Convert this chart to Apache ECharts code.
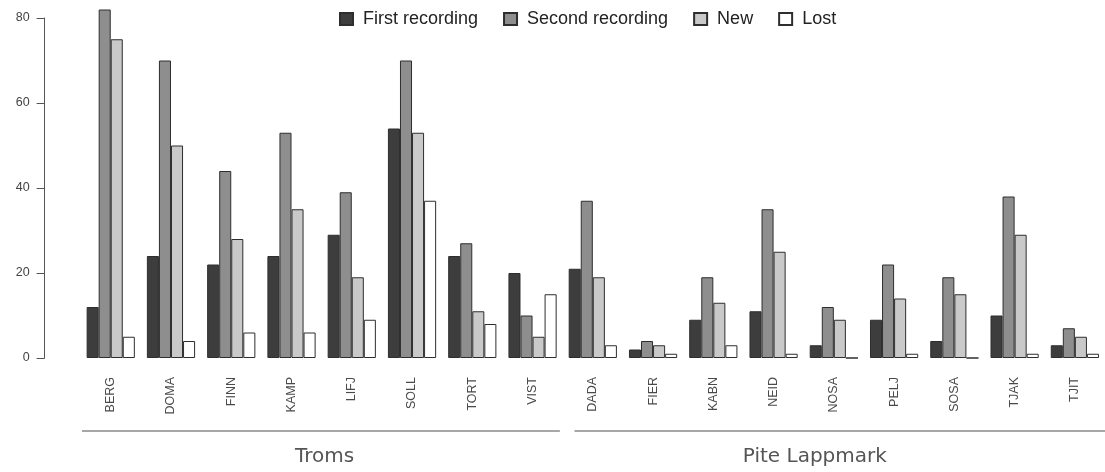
<!DOCTYPE html>
<html>
<head>
<meta charset="utf-8">
<script src="https://cdn.jsdelivr.net/npm/echarts@6/dist/echarts.min.js"></script>
<style>
html,body{margin:0;padding:0;background:#fff;}
#c{width:1105px;height:472px;}
</style>
</head>
<body>
<div id="c"></div>
<script>
const categories = ['BERG','DOMA','FINN','KAMP','LIFJ','SOLL','TORT','VIST','DADA','FIER','KABN','NEID','NOSA','PELJ','SOSA','TJAK','TJIT'];
const firstRecording  = [12, 24, 22, 24, 29, 54, 24, 20, 21, 2, 9, 11, 3, 9, 4, 10, 3];
const secondRecording = [82, 70, 44, 53, 39, 70, 27, 10, 37, 4, 19, 35, 12, 22, 19, 38, 7];
const newSpecies      = [75, 50, 28, 35, 19, 53, 11, 5, 19, 3, 13, 25, 9, 14, 15, 29, 5];
const lostSpecies     = [5, 4, 6, 6, 9, 37, 8, 15, 3, 1, 3, 1, 0, 1, 0, 1, 1];
const yTicks = [0, 20, 40, 60, 80];
const groups = [
  {name: 'Troms', from: 'BERG', to: 'VIST'},
  {name: 'Pite Lappmark', from: 'DADA', to: 'TJIT'}
];

const chart = echarts.init(document.getElementById('c'), null, {renderer: 'canvas'});
const border = '#2e2e2e';
function s(name, data, color) {
  return {
    name: name, type: 'bar', data: data, clip: false,
    barGap: '0%', barCategoryGap: '20%',
    itemStyle: {color: color, borderColor: border, borderWidth: 1},
    emphasis: {disabled: true}
  };
}
const gridWidth = 1030.6;
const option = {
  animation: false,
  backgroundColor: '#ffffff',
  textStyle: {fontFamily: 'Liberation Sans, Arial, sans-serif'},
  legend: {
    left: 334, top: 5,
    itemWidth: 13, itemHeight: 12, itemGap: 25,
    icon: 'rect',
    textStyle: {fontSize: 18, color: '#222', padding: [0, 0, 0, 5]},
    data: ['First recording', 'Second recording', 'New', 'Lost']
  },
  grid: {left: 80.6, top: 18, bottom: 114, width: gridWidth},
  xAxis: {
    type: 'category', data: categories,
    axisLine: {show: false}, axisTick: {show: false},
    axisLabel: {rotate: 90, margin: 19, fontSize: 12.5, color: '#4a4a4a'}
  },
  yAxis: {
    type: 'value', min: yTicks[0], max: yTicks[yTicks.length - 1], interval: 20,
    offset: 36,
    axisLine: {show: true, lineStyle: {color: '#555', width: 1}},
    axisTick: {show: true, length: 8, lineStyle: {color: '#555'}},
    axisLabel: {fontSize: 12.5, color: '#444', margin: 15},
    splitLine: {show: false}
  },
  series: [
    s('First recording', firstRecording, '#3d3d3d'),
    s('Second recording', secondRecording, '#8e8e8e'),
    s('New', newSpecies, '#c9c9c9'),
    s('Lost', lostSpecies, '#ffffff')
  ]
};
chart.setOption(option);

// group brackets positioned via the axis scale
const band = gridWidth / categories.length;
const yBase = chart.convertToPixel({yAxisIndex: 0}, 0);
const startPad = [1.5, 12];
const endPad = [-3, 12];
const labelShift = [3, -19];
const elements = [];
groups.forEach((g, i) => {
  const bandStart = chart.convertToPixel({xAxisIndex: 0}, g.from) - band / 2;
  const bandEnd = chart.convertToPixel({xAxisIndex: 0}, g.to) + band / 2;
  const x1 = bandStart + startPad[i];
  const x2 = bandEnd + endPad[i];
  elements.push({
    type: 'line', silent: true,
    shape: {x1: x1, y1: yBase + 73, x2: x2, y2: yBase + 73},
    style: {stroke: '#8a8a8a', lineWidth: 1.5}
  });
  elements.push({
    type: 'text', silent: true,
    x: (bandStart + bandEnd) / 2 + labelShift[i], y: yBase + 99,
    style: {text: g.name, fill: '#555', fontSize: 20, align: 'center', verticalAlign: 'middle',
            fontFamily: 'DejaVu Sans, sans-serif'}
  });
});
chart.setOption({graphic: {elements: elements}});
</script>
</body>
</html>
